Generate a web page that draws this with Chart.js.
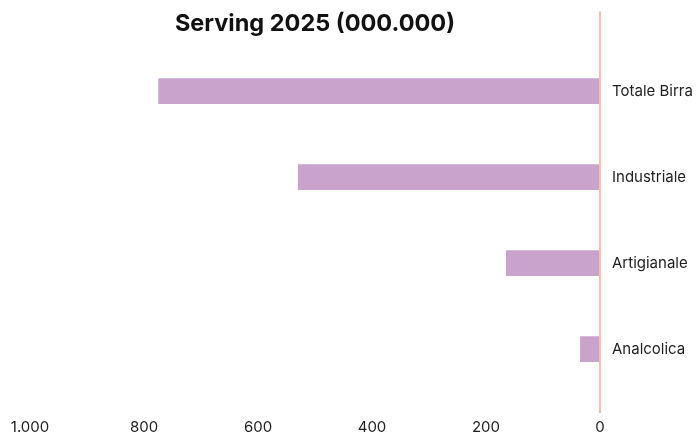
<!DOCTYPE html>
<html>
<head>
<meta charset="utf-8">
<script src="https://cdn.jsdelivr.net/npm/chart.js@4/dist/chart.umd.min.js"></script>
<style>
  html, body { margin: 0; padding: 0; background: #ffffff; }
  #wrap { width: 696px; height: 440px; }
</style>
</head>
<body>
<div id="wrap"><canvas id="c" width="696" height="440"></canvas></div>
<script>
const categories = ["Totale Birra", "Industriale", "Artigianale", "Analcolica"];
const servingValues = [775, 530, 165, 35];
const axisMin = 0;
const axisMax = 1000;
const axisStep = 200;
const chartTitle = "Serving 2025 (000.000)";

function fmtThousands(v) {
  return String(v).replace(/\B(?=(\d{3})+(?!\d))/g, ".");
}

const zeroLine = {
  id: 'zeroLine',
  afterDatasetsDraw(chart) {
    const { ctx, chartArea, scales } = chart;
    const x = scales.x.getPixelForValue(0);
    ctx.save();
    ctx.strokeStyle = '#f8bfae';
    ctx.lineWidth = 2;
    ctx.beginPath();
    ctx.moveTo(x, chartArea.top - 37);
    ctx.lineTo(x, chartArea.bottom + 21);
    ctx.stroke();
    ctx.restore();
  }
};

new Chart(document.getElementById('c'), {
  type: 'bar',
  data: {
    labels: categories,
    datasets: [{
      data: servingValues,
      backgroundColor: '#c9a3cc',
      borderWidth: 0,
      categoryPercentage: 1,
      barPercentage: 0.3
    }]
  },
  options: {
    indexAxis: 'y',
    responsive: false,
    animation: false,
    devicePixelRatio: 1,
    layout: { padding: { left: 30, right: 0, top: 0, bottom: 0 } },
    plugins: {
      legend: { display: false },
      tooltip: { enabled: false },
      title: {
        display: true,
        text: chartTitle,
        fullSize: false,
        color: '#111111',
        font: { family: 'Inter', size: 23.5, weight: 'bold' },
        padding: { top: 10, bottom: 10 }
      }
    },
    scales: {
      x: {
        type: 'linear',
        reverse: true,
        min: axisMin,
        max: axisMax,
        grid: { display: false, drawTicks: false },
        border: { display: false },
        afterFit: (s) => { s.height = 48; s.paddingLeft = 0; s.paddingRight = 0; },
        ticks: {
          stepSize: axisStep,
          padding: 26,
          color: '#222222',
          font: { family: 'Inter', size: 15 },
          callback: (v) => fmtThousands(v)
        }
      },
      y: {
        position: 'right',
        grid: { display: false, drawTicks: false },
        border: { display: false },
        afterFit: (s) => { s.width = 96; },
        ticks: {
          padding: 12,
          color: '#222222',
          font: { family: 'Inter', size: 15 }
        }
      }
    }
  },
  plugins: [zeroLine]
});
</script>
</body>
</html>
